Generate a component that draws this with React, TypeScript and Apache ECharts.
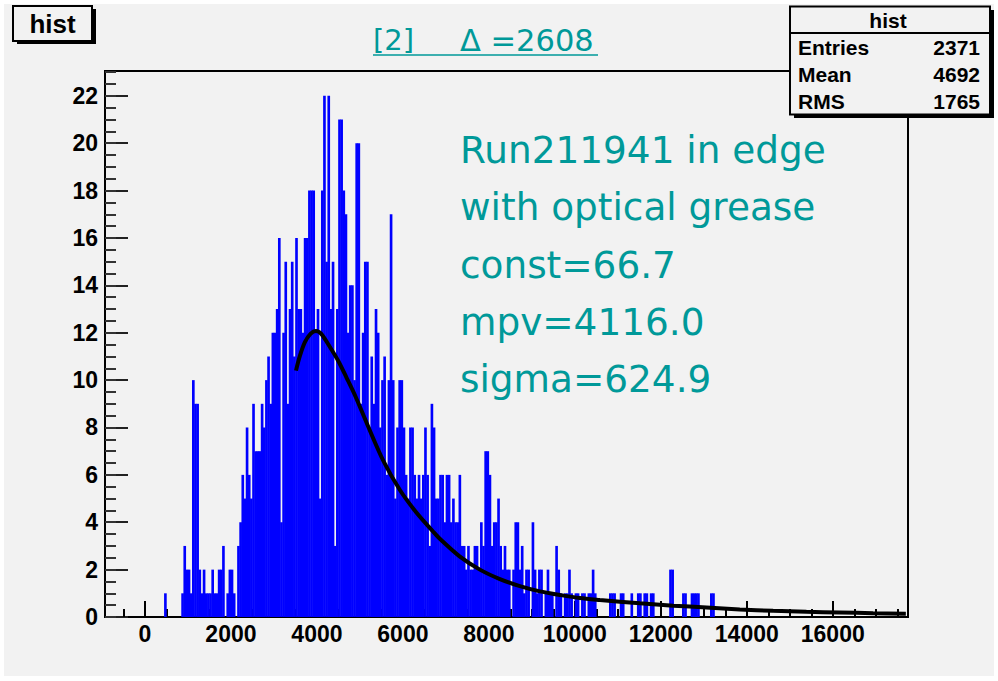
import React, { useEffect, useRef } from "react";
import * as echarts from "echarts";

// ---- data ----
const binStart = 400;
const binWidth = 50;
const counts = [
  0, 1, 0, 0, 0, 0, 0, 0, 0, 1,
  3, 2, 2, 1, 10, 9, 9, 2, 1, 2,
  1, 1, 1, 2, 1, 1, 2, 2, 3, 0,
  1, 2, 2, 1, 0, 3, 4, 6, 5, 8,
  6, 5, 9, 7, 7, 7, 9, 8, 10, 11,
  9, 12, 12, 13, 16, 4, 12, 15, 9, 13,
  15, 11, 16, 13, 13, 12, 16, 16, 18, 18,
  18, 12, 13, 5, 18, 22, 15, 22, 13, 15,
  3, 13, 21, 21, 18, 17, 12, 14, 14, 10,
  20, 20, 9, 12, 15, 15, 8, 11, 9, 13,
  12, 8, 10, 11, 6, 10, 17, 10, 5, 8,
  10, 10, 8, 6, 5, 8, 8, 6, 5, 6,
  5, 6, 8, 6, 3, 9, 8, 5, 5, 6,
  6, 4, 6, 6, 4, 5, 4, 4, 6, 3,
  3, 2, 3, 2, 2, 3, 3, 2, 4, 3,
  7, 7, 6, 3, 4, 4, 5, 3, 2, 3,
  2, 2, 0, 2, 4, 4, 2, 3, 1, 2,
  2, 0, 4, 2, 1, 2, 2, 0, 1, 2,
  1, 1, 0, 3, 2, 1, 0, 1, 1, 2,
  1, 0, 1, 1, 0, 1, 1, 0, 1, 1,
  2, 1, 0, 0, 0, 0, 0, 0, 1, 1,
  1, 0, 0, 1, 1, 0, 0, 0, 1, 0,
  0, 1, 1, 0, 1, 1, 0, 1, 1, 0,
  0, 0, 0, 0, 0, 0, 2, 2, 0, 0,
  0, 0, 1, 1, 0, 0, 1, 1, 1, 1,
  0, 0, 0, 0, 0, 1, 1,
];

const fitX = [3513, 3600, 3720, 3850, 3977, 4100, 4302, 4500, 4690, 4900, 5155, 5543, 5930, 6318, 6705, 6860, 7326, 7791, 8256, 8721, 9186, 9651, 10116, 10581, 11512, 12287, 13062, 13837, 14612, 15387, 16162, 16937, 17700];
const fitY = [10.4, 11.0, 11.6, 11.95, 12.07, 11.95, 11.4, 10.8, 10.1, 9.3, 8.2, 6.6, 5.36, 4.4, 3.6, 3.3, 2.55, 2.0, 1.6, 1.3, 1.08, 0.93, 0.8, 0.72, 0.58, 0.48, 0.4, 0.32, 0.26, 0.22, 0.19, 0.16, 0.14];

const xTickLabels = [0, 2000, 4000, 6000, 8000, 10000, 12000, 14000, 16000];
const xMinorTicks = [-500, 0, 500, 1000, 1500, 2000, 2500, 3000, 3500, 4000, 4500, 5000, 5500, 6000, 6500, 7000, 7500, 8000, 8500, 9000, 9500, 10000, 10500, 11000, 11500, 12000, 12500, 13000, 13500, 14000, 14500, 15000, 15500, 16000, 16500, 17000, 17500];
const yTickLabels = [0, 2, 4, 6, 8, 10, 12, 14, 16, 18, 20, 22];
const yMinorTicks = [0, 0.5, 1, 1.5, 2, 2.5, 3, 3.5, 4, 4.5, 5, 5.5, 6, 6.5, 7, 7.5, 8, 8.5, 9, 9.5, 10, 10.5, 11, 11.5, 12, 12.5, 13, 13.5, 14, 14.5, 15, 15.5, 16, 16.5, 17, 17.5, 18, 18.5, 19, 19.5, 20, 20.5, 21, 21.5, 22, 22.5, 23];

const statsLabels = ["Entries", "Mean", "RMS"];
const statsValues = ["2371", "4692", "1765"];
const noteLines = ["Run211941 in edge", "with optical grease", "const=66.7", "mpv=4116.0", "sigma=624.9"];

const X_MIN = -930;
const X_MAX = 17750;
const Y_MAX = 23.05;

const BG = "#f2f2f2";
const TEAL = "#009999";
const BOLD = "'Liberation Sans', Arial, sans-serif";
const DEJAVU = "'DejaVu Sans', Verdana, sans-serif";

function txt(x: number, y: number, text: string, font: string, fill: string, align: string, z = 110) {
  return {
    type: "text",
    x,
    y,
    z,
    style: { text, font, fill, textAlign: align, align, textVerticalAlign: "middle", verticalAlign: "middle" },
  };
}

export default function App() {
  const ref = useRef<HTMLDivElement>(null);

  useEffect(() => {
    if (!ref.current) return;
    const chart = echarts.init(ref.current, null, { renderer: "svg" });

    const histData = counts.map((c, i) => [binStart + i * binWidth, binStart + (i + 1) * binWidth, c]);
    const fitData = fitX.map((x, i) => [x, fitY[i]]);

    const statsGraphics: any[] = [];
    statsLabels.forEach((l, i) => {
      const y = 47 + i * 27;
      statsGraphics.push(txt(798, y, l, `bold 21px ${BOLD}`, "#000", "left"));
      statsGraphics.push(txt(980, y, statsValues[i], `bold 21px ${BOLD}`, "#000", "right"));
    });

    const noteGraphics = noteLines.map((l, i) => txt(460, 150 + i * 57.3, l, `37.4px ${DEJAVU}`, TEAL, "left", 50));

    const option: any = {
      animation: false,
      backgroundColor: "#ffffff",
      grid: {
        left: 105,
        right: 90,
        top: 71,
        bottom: 64,
        show: true,
        borderColor: "#000",
        borderWidth: 2,
        backgroundColor: "transparent",
      },
      xAxis: [
        {
          type: "value",
          min: X_MIN,
          max: X_MAX,
          axisLine: { show: true, onZero: false, lineStyle: { color: "#000", width: 2 } },
          axisTick: { show: true, inside: true, length: 8, customValues: xMinorTicks, lineStyle: { color: "#000", width: 2 } },
          axisLabel: {
            show: true,
            customValues: xTickLabels,
            formatter: (v: number) => String(v),
            color: "#000",
            fontFamily: BOLD,
            fontWeight: "bold",
            fontSize: 23,
            margin: 5,
          },
          splitLine: { show: false },
        },
        {
          type: "value",
          min: X_MIN,
          max: X_MAX,
          position: "bottom",
          axisLine: { show: false, onZero: false },
          axisTick: { show: true, inside: true, length: 16, customValues: xTickLabels, lineStyle: { color: "#000", width: 2 } },
          axisLabel: { show: false },
          splitLine: { show: false },
        },
      ],
      yAxis: [
        {
          type: "value",
          min: 0,
          max: Y_MAX,
          axisLine: { show: true, onZero: false, lineStyle: { color: "#000", width: 2 } },
          axisTick: { show: true, inside: true, length: 23, customValues: yTickLabels, lineStyle: { color: "#222", width: 2 } },
          axisLabel: {
            show: true,
            customValues: yTickLabels,
            formatter: (v: number) => String(v),
            color: "#000",
            fontFamily: BOLD,
            fontWeight: "bold",
            fontSize: 23,
            margin: 7,
          },
          splitLine: { show: false },
        },
        {
          type: "value",
          min: 0,
          max: Y_MAX,
          position: "left",
          axisLine: { show: false, onZero: false },
          axisTick: { show: true, inside: true, length: 11, customValues: yMinorTicks, lineStyle: { color: "#333", width: 2 } },
          axisLabel: { show: false },
          splitLine: { show: false },
        },
      ],
      series: [
        {
          type: "custom",
          xAxisIndex: 0,
          yAxisIndex: 0,
          data: histData,
          encode: { x: [0, 1], y: 2 },
          clip: true,
          renderItem: (params: any, api: any) => {
            const h = api.value(2);
            if (!h) return null;
            const p0 = api.coord([api.value(0), 0]);
            const p1 = api.coord([api.value(1), h]);
            return {
              type: "rect",
              shape: { x: p0[0] - 0.25, y: p1[1], width: p1[0] - p0[0] + 0.5, height: p0[1] - p1[1] },
              style: { fill: "#0000ff" },
            };
          },
        },
        {
          type: "line",
          xAxisIndex: 0,
          yAxisIndex: 0,
          data: fitData,
          smooth: 0.3,
          symbol: "none",
          lineStyle: { color: "#000", width: 4 },
          z: 5,
        },
      ],
      graphic: [
        { type: "rect", z: -10, shape: { x: 4, y: 4, width: 990, height: 672 }, style: { fill: BG } },
        // title box
        { type: "rect", z: 100, shape: { x: 17, y: 9, width: 79, height: 35 }, style: { fill: "#000" } },
        { type: "rect", z: 101, shape: { x: 13, y: 6, width: 79, height: 35 }, style: { fill: BG, stroke: "#000", lineWidth: 2 } },
        txt(52.5, 24, "hist", `bold 26px ${BOLD}`, "#000", "center", 102),
        // title
        txt(373, 40, "[2]", `29px ${DEJAVU}`, TEAL, "left", 50),
        txt(460, 40, "\u0394 =2608", `30.5px ${DEJAVU}`, TEAL, "left", 50),
        { type: "line", z: 50, shape: { x1: 373, y1: 55, x2: 598, y2: 55 }, style: { stroke: TEAL, lineWidth: 1.5 } },
        // stats box
        { type: "rect", z: 100, shape: { x: 794, y: 10, width: 200, height: 108 }, style: { fill: "#000" } },
        { type: "rect", z: 101, shape: { x: 790, y: 6.5, width: 200, height: 108 }, style: { fill: BG, stroke: "#000", lineWidth: 2 } },
        { type: "line", z: 102, shape: { x1: 790, y1: 33, x2: 990, y2: 33 }, style: { stroke: "#000", lineWidth: 2 } },
        txt(888, 20, "hist", `bold 21px ${BOLD}`, "#000", "center"),
        ...statsGraphics,
        ...noteGraphics,
      ],
    };

    chart.setOption(option);
    return () => chart.dispose();
  }, []);

  return <div ref={ref} style={{ position: "absolute", left: 0, top: 0, width: 998, height: 681 }} />;
}
